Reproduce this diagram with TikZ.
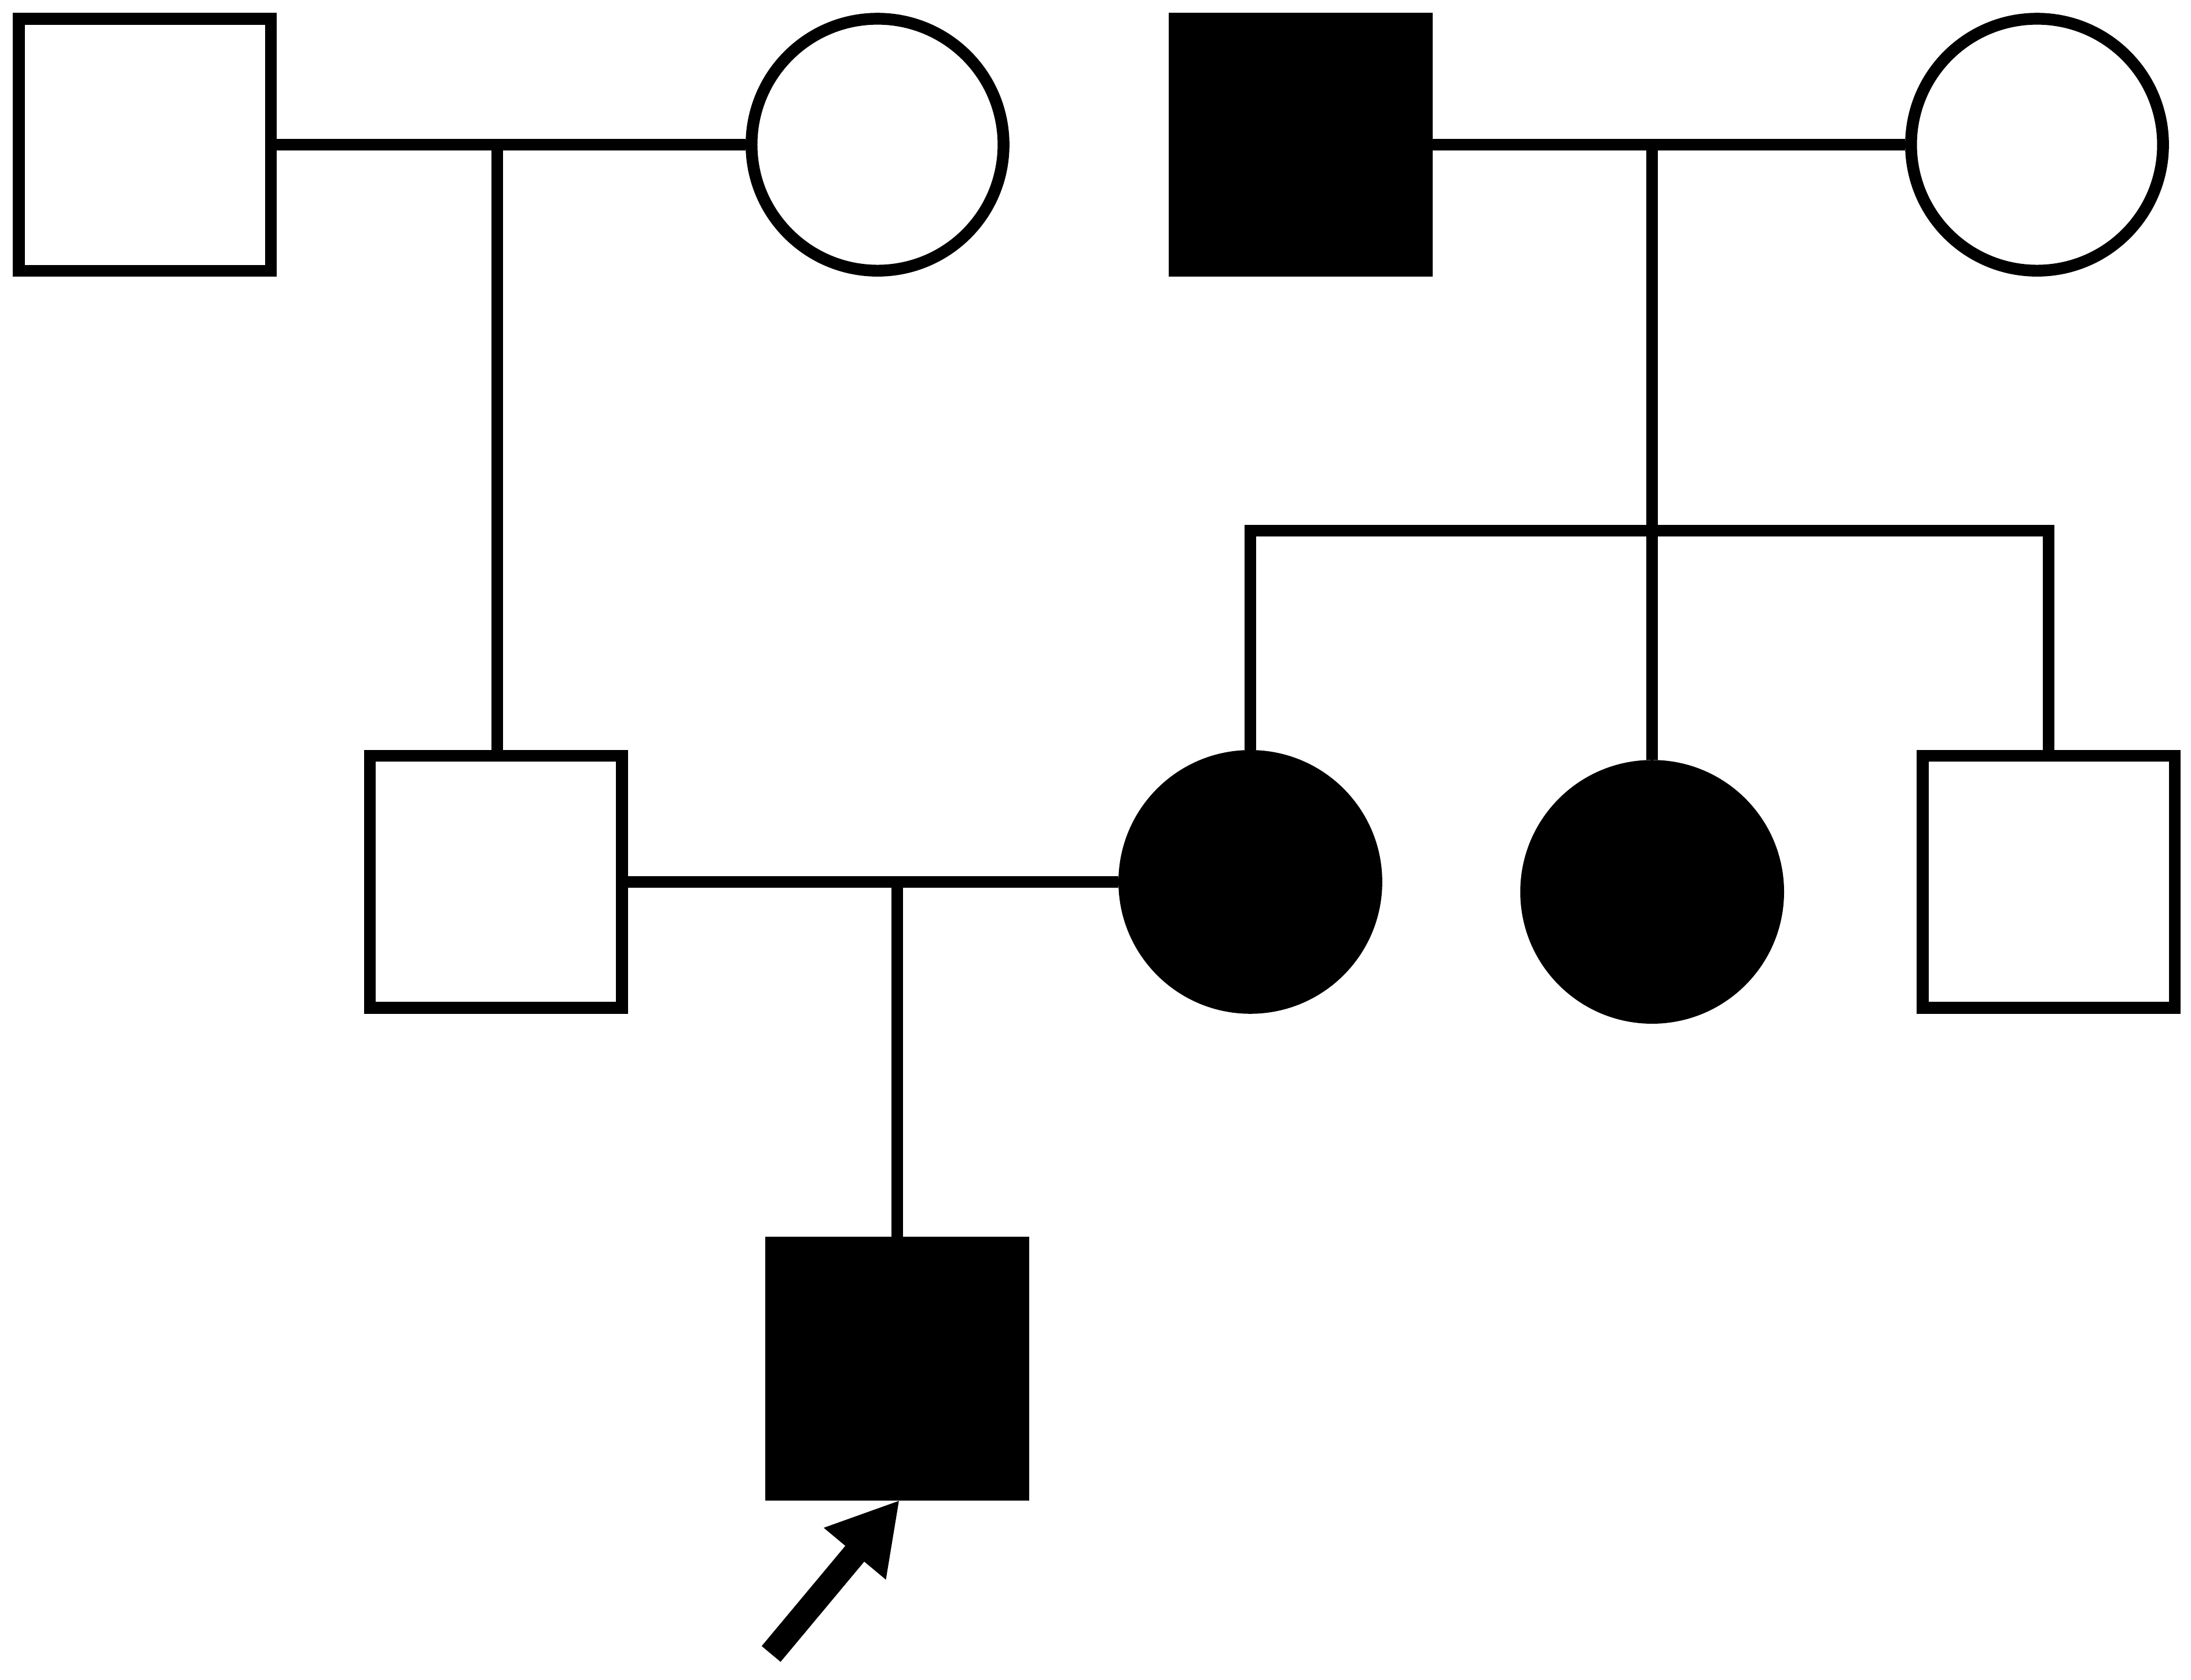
\documentclass[tikz,border=0pt]{standalone}
\usetikzlibrary{arrows.meta}

\begin{document}
\begin{tikzpicture}[> = latex, line width = 2.4pt,
	male/.style = {draw, rectangle, minimum size = 1.8cm, inner sep = 0pt},
	female/.style = {draw, circle, minimum size = 1.8cm, inner sep = 0pt},
	affected/.style = {fill = black}]

	\useasboundingbox (0, 0) rectangle (15.65, 12);

	% First generation

	\node [male] (gfa) at (1.034, 10.966) {};
	\node [female] (gma) at (6.268, 10.966) {};
	\node [male, affected] (gfb) at (9.291, 10.966) {};
	\node [female] (gmb) at (14.550, 10.966) {};

	\draw (gfa) -- (gma);
	\draw (gfb) -- (gmb);

	\coordinate (ma) at (3.552, 10.966);
	\coordinate (mb) at (11.801, 10.966);

	% Second generation

	\node [male] (fa) at (3.543, 5.699) {};
	\node [female, affected] (mo) at (8.931, 5.699) {};
	\node [female, affected] (au) at (11.801, 5.628) {};
	\node [male] (un) at (14.633, 5.699) {};

	\draw (ma) -- (ma |- fa.north);
	\draw (mb) -- (au.north);

	\coordinate (sib) at (11.801, 8.208);
	\draw (mo.north) |- (sib) -| (un.north);

	\draw (fa) -- (mo);

	\coordinate (mc) at (6.409, 5.699);

	% Proband

	\node [male, affected] (pro) at (6.409, 2.221) {};

	\draw (mc) -- (pro);

	\coordinate (tail) at (5.508, 0.183);
	\coordinate (tip) at (6.426, 1.283);

	\draw [line width = 5pt, -{Triangle[length = 0.5cm, width = 0.54cm]}] (tail) -- (tip);

\end{tikzpicture}
\end{document}
